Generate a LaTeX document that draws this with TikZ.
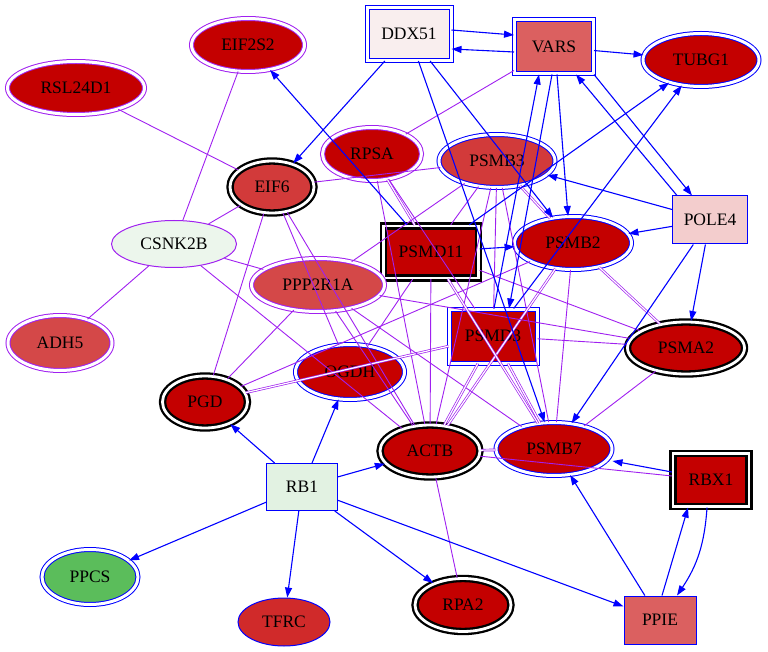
\documentclass[tikz,border=0pt]{standalone}
\usepackage{fontspec}
\setmainfont{Liberation Serif}
\usetikzlibrary{arrows.meta}
\usetikzlibrary{shapes.geometric}

\definecolor{netblue}{RGB}{0,0,255}
\definecolor{netpurple}{RGB}{160,32,240}
\definecolor{hired}{RGB}{196,0,0}
\definecolor{midred}{RGB}{210,58,58}
\definecolor{softred}{RGB}{212,72,72}
\definecolor{tfrcred}{RGB}{208,42,42}
\definecolor{salmon}{RGB}{219,96,96}
\definecolor{pinkish}{RGB}{243,205,205}
\definecolor{palepink}{RGB}{249,238,238}
\definecolor{palegreen}{RGB}{236,246,236}
\definecolor{mintgreen}{RGB}{226,242,226}
\definecolor{leafgreen}{RGB}{91,189,91}

\tikzset{
  gene/.style={font=\fontsize{17.5}{20}\selectfont, inner sep=0pt, text=black},
  oval/.style={gene, ellipse},
  box/.style={gene, rectangle},
  pblue/.style={draw=netblue, line width=1pt, double=white, double distance=3pt},
  ppurp/.style={draw=netpurple, line width=1pt, double=white, double distance=3pt},
  pblack/.style={draw=black, line width=2.3pt, double=white, double distance=2.8pt},
  sblue/.style={draw=netblue, line width=1pt},
  spurp/.style={draw=netpurple, line width=1pt},
  bl/.style={draw=netblue, line width=1.1pt, ->},
  pu/.style={draw=netpurple, line width=0.9pt},
  pp/.style={draw=netpurple, line width=0.7pt, double=white, double distance=1.2pt}
}

\begin{document}
\begin{tikzpicture}[x=1pt, y=-1pt, >={Triangle[length=10pt,width=7pt]}]

    \useasboundingbox (0,0) rectangle (768,652);

    % nodes, top row
    \node[box, pblue, fill=palepink, minimum width=84pt, minimum height=53pt] (DDX51) at (409,34) {DDX51};
    \node[box, pblue, fill=salmon, minimum width=79pt, minimum height=54pt] (VARS) at (554,47) {VARS};
    \node[oval, pblue, fill=hired, minimum width=116pt, minimum height=53pt] (TUBG1) at (701,60) {TUBG1};
    \node[oval, ppurp, fill=hired, minimum width=113pt, minimum height=53pt] (EIF2S2) at (248,45) {EIF2S2};
    \node[oval, ppurp, fill=hired, minimum width=137pt, minimum height=53pt] (RSL24D1) at (76,88) {RSL24D1};

    % upper middle
    \node[oval, pblack, fill=midred, minimum width=84pt, minimum height=52pt] (EIF6) at (272,187) {EIF6};
    \node[oval, ppurp, fill=hired, minimum width=99pt, minimum height=53pt] (RPSA) at (372,154) {RPSA};
    \node[oval, pblue, fill=midred, minimum width=116pt, minimum height=53pt] (PSMB3) at (497,161) {PSMB3};
    \node[box, sblue, fill=pinkish, minimum width=75pt, minimum height=48pt] (POLE4) at (710,220) {POLE4};
    \node[oval, spurp, fill=palegreen, minimum width=125pt, minimum height=47pt] (CSNK2B) at (174,244) {CSNK2B};
    \node[box, pblack, fill=hired, minimum width=95pt, minimum height=52pt] (PSMD11) at (431,252) {PSMD11};
    \node[oval, pblue, fill=hired, minimum width=117pt, minimum height=53pt] (PSMB2) at (573,243) {PSMB2};
    \node[oval, ppurp, fill=softred, minimum width=133pt, minimum height=53pt] (PPP2R1A) at (318,285) {PPP2R1A};

    % lower middle
    \node[oval, ppurp, fill=softred, minimum width=104pt, minimum height=55pt] (ADH5) at (60,343) {ADH5};
    \node[box, pblue, fill=hired, minimum width=88pt, minimum height=54pt] (PSMD3) at (493,336) {PSMD3};
    \node[oval, pblack, fill=hired, minimum width=117pt, minimum height=52pt] (PSMA2) at (686,348) {PSMA2};
    \node[oval, pblue, fill=hired!95!red, minimum width=109pt, minimum height=55pt] (OGDH) at (350,372) {OGDH};
    \node[oval, pblack, fill=hired, minimum width=85pt, minimum height=52pt] (PGD) at (205,402) {PGD};
    \node[oval, pblack, fill=hired, minimum width=100pt, minimum height=52pt] (ACTB) at (430,451) {ACTB};
    \node[oval, pblue, fill=hired, minimum width=116pt, minimum height=53pt] (PSMB7) at (554,449) {PSMB7};
    \node[box, pblack, fill=hired, minimum width=76pt, minimum height=53pt] (RBX1) at (711,480) {RBX1};

    % bottom
    \node[box, sblue, fill=mintgreen, minimum width=71pt, minimum height=47pt] (RB1) at (302,487) {RB1};
    \node[oval, pblue, fill=leafgreen, minimum width=96pt, minimum height=55pt] (PPCS) at (90,577) {PPCS};
    \node[oval, sblue, fill=tfrcred, minimum width=92pt, minimum height=48pt] (TFRC) at (284,622) {TFRC};
    \node[oval, pblack, fill=hired, minimum width=96pt, minimum height=53pt] (RPA2) at (463,605) {RPA2};
    \node[box, sblue, fill=salmon, minimum width=72pt, minimum height=48pt] (PPIE) at (660,620) {PPIE};

    % undirected links
    \draw[pu] (RSL24D1) -- (EIF6);
    \draw[pu] (EIF2S2) -- (CSNK2B);
    \draw[pu] (CSNK2B) -- (EIF6);
    \draw[pu] (CSNK2B) -- (ADH5);
    \draw[pu] (CSNK2B) -- (PPP2R1A);
    \draw[pu] (CSNK2B) -- (ACTB);
    \draw[pu] (EIF6) -- (PSMB3);
    \draw[pu] (EIF6) -- (PGD);
    \draw[pu] (EIF6) -- (OGDH);
    \draw[pu] (EIF6) -- (ACTB);
    \draw[pu] (VARS) -- (RPSA);
    \draw[pp] (RPSA) -- (PSMD11);
    \draw[pu] (RPSA) -- (ACTB);
    \draw[pu] (RPSA) -- (PSMD3);
    \draw[pu] (PSMB3) -- (PSMD11);
    \draw[pp] (PSMB3) -- (PSMB2);
    \draw[pu] (PSMB3) -- (PSMD3);
    \draw[pu] (PSMB3) -- (ACTB);
    \draw[pu] (PSMB3) -- (PSMB7);
    \draw[pu] (PSMB3) -- (PPP2R1A);
    \draw[pp] (PSMB2) -- (PSMA2);
    \draw[pu] (PSMB2) -- (PGD);
    \draw[pp] (PSMB2) -- (ACTB);
    \draw[pu] (PSMB2) -- (PSMB7);
    \draw[pu] (PGD) -- (PPP2R1A);
    \draw[pp] (PGD) -- (PSMD3);
    \draw[pu] (OGDH) -- (PSMD11);
    \draw[pu] (PPP2R1A) -- (ACTB);
    \draw[pu] (PPP2R1A) -- (PSMB7);
    \draw[pu] (PPP2R1A) -- (PSMA2);
    \draw[pu] (PSMD11) -- (ACTB);
    \draw[pp] (PSMD11) -- (PSMB7);
    \draw[pu] (PSMD11) -- (PSMA2);
    \draw[pp] (PSMD3) -- (ACTB);
    \draw[pp] (PSMD3) -- (PSMB7);
    \draw[pu] (PSMD3) -- (PSMA2);
    \draw[pu] (PSMA2) -- (PSMB7);
    \draw[pp] (ACTB) -- (PSMB7);
    \draw[pu] (ACTB) -- (RBX1);
    \draw[pu] (ACTB) -- (RPA2);

    % directed links
    \draw[bl] ([yshift=4pt]DDX51.east) -- ([yshift=12pt]VARS.west);
    \draw[bl] ([yshift=-5pt]VARS.west) -- ([yshift=-15pt]DDX51.east);
    \draw[bl] (VARS) -- (TUBG1);
    \draw[bl] (DDX51) -- (EIF6);
    \draw[bl] (DDX51) -- (PSMB2);
    \draw[bl] (DDX51) -- (PSMB7);
    \draw[bl] ([xshift=3pt]VARS.south) -- ([xshift=-5pt]PSMB2.north);
    \draw[bl] ([xshift=-2pt]VARS.south) -- ([xshift=16pt]PSMD3.north);
    \draw[bl] ([xshift=1pt]PSMD3.north) -- ([xshift=-15pt]VARS.south);
    \draw[bl] ([xshift=5pt]POLE4.north west) -- ([xshift=22pt]VARS.south);
    \draw[bl] (VARS.south east) -- ([xshift=-18pt]POLE4.north);
    \draw[bl] (POLE4) -- (PSMB3);
    \draw[bl] (POLE4) -- (PSMB2);
    \draw[bl] (POLE4) -- (PSMA2);
    \draw[bl] (POLE4) -- (PSMB7);
    \draw[bl] (PSMD11) -- (PSMB2);
    \draw[bl] (PSMD11) -- (TUBG1);
    \draw[bl] (PSMD3) -- (TUBG1);
    \draw[bl] (PSMD11) -- (EIF2S2);
    \draw[bl] (RB1) -- (PGD);
    \draw[bl] (RB1) -- (OGDH);
    \draw[bl] (RB1) -- (ACTB);
    \draw[bl] (RB1) -- (PPCS);
    \draw[bl] (RB1) -- (TFRC);
    \draw[bl] (RB1) -- (RPA2);
    \draw[bl] (RB1) -- (PPIE);
    \draw[bl] (PPIE) -- (PSMB7);
    \draw[bl] ([xshift=2pt]PPIE.north) -- ([xshift=-23pt]RBX1.south);
    \draw[bl] ([xshift=-4pt]RBX1.south) to[bend left=15] ([xshift=17pt]PPIE.north);
    \draw[bl] ([yshift=8pt]RBX1.west) -- ([yshift=-12pt]PSMB7.east);

\end{tikzpicture}
\end{document}
